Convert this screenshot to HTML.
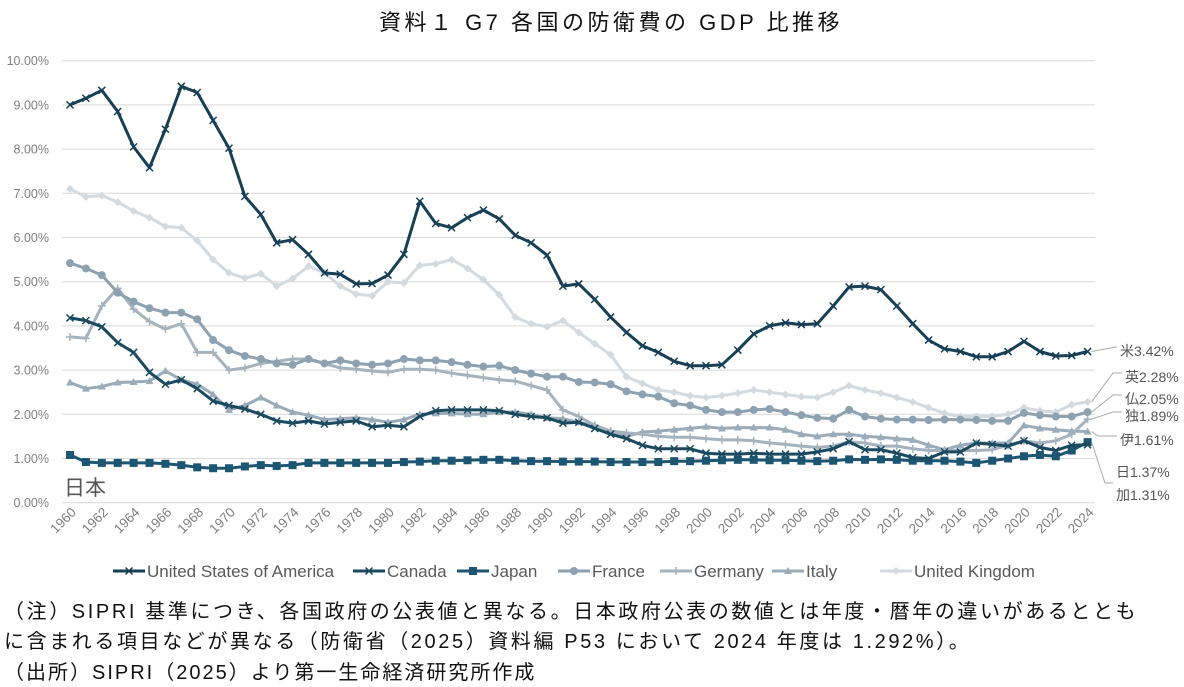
<!DOCTYPE html>
<html><head><meta charset="utf-8">
<style>
body{margin:0;background:#fff;width:1184px;height:687px;overflow:hidden;font-family:"Liberation Sans","Noto Sans CJK JP",sans-serif;}
.n{position:absolute;left:4px;font-size:20px;letter-spacing:2.6px;color:#111;white-space:nowrap;}
</style></head><body>
<svg id="s" width="1184" height="687" style="position:absolute;left:0;top:0" xmlns="http://www.w3.org/2000/svg"></svg>
<div class="n" style="top:595px">（注）SIPRI 基準につき、各国政府の公表値と異なる。日本政府公表の数値とは年度・暦年の違いがあるととも</div>
<div class="n" style="top:625px">に含まれる項目などが異なる（防衛省（2025）資料編 P53 において 2024 年度は 1.292%）。</div>
<div class="n" style="top:656px;letter-spacing:2px">（出所）SIPRI（2025）より第一生命経済研究所作成</div>
<script>
const S=document.getElementById('s');let h='';
const X=y=>70+(y-1960)*15.9, Y=v=>502.7-v*44.2;
h+='<text x="611" y="30" text-anchor="middle" font-size="22" letter-spacing="3.5" fill="#111" font-family="Liberation Sans,Noto Sans CJK JP,sans-serif">資料１ G7 各国の防衛費の GDP 比推移</text>';
for(let i=0;i<=10;i++){const y=Y(i);h+=`<line x1="62" x2="1095" y1="${y}" y2="${y}" stroke="#d9d9d9" stroke-width="1"/>`;
h+=`<text x="49" y="${y+4.5}" text-anchor="end" font-size="12.5" fill="#7f7f7f" font-family="Liberation Sans,sans-serif">${i}.00%</text>`;}
for(let yr=1960;yr<=2024;yr+=2){const x=X(yr);h+=`<text transform="translate(${x+7},${513}) rotate(-45)" text-anchor="end" font-size="13.5" fill="#7f7f7f" font-family="Liberation Sans,sans-serif">${yr}</text>`;}
const D={
us:[9.0,9.15,9.33,8.85,8.05,7.58,8.45,9.42,9.28,8.65,8.02,6.93,6.52,5.88,5.95,5.62,5.2,5.17,4.95,4.96,5.15,5.62,6.82,6.32,6.22,6.45,6.62,6.42,6.05,5.88,5.6,4.9,4.95,4.6,4.2,3.85,3.55,3.4,3.2,3.1,3.1,3.12,3.45,3.82,4.0,4.07,4.03,4.05,4.45,4.88,4.9,4.82,4.45,4.05,3.68,3.48,3.42,3.3,3.3,3.42,3.65,3.42,3.32,3.33,3.42],
uk:[7.1,6.92,6.95,6.8,6.6,6.45,6.25,6.22,5.93,5.5,5.2,5.08,5.18,4.9,5.07,5.35,5.2,4.9,4.72,4.68,5.0,4.97,5.37,5.4,5.5,5.3,5.05,4.7,4.2,4.05,3.98,4.12,3.85,3.6,3.35,2.85,2.7,2.55,2.5,2.42,2.38,2.42,2.48,2.55,2.5,2.45,2.4,2.38,2.5,2.65,2.55,2.48,2.38,2.28,2.15,2.02,1.95,1.95,1.95,2.0,2.15,2.08,2.05,2.22,2.28],
fr:[5.42,5.3,5.15,4.75,4.55,4.4,4.3,4.3,4.15,3.68,3.45,3.32,3.25,3.15,3.12,3.25,3.15,3.22,3.15,3.12,3.15,3.25,3.22,3.22,3.18,3.12,3.08,3.1,3.0,2.92,2.85,2.85,2.73,2.72,2.68,2.52,2.45,2.4,2.25,2.2,2.1,2.05,2.05,2.1,2.12,2.05,1.98,1.92,1.9,2.1,1.95,1.9,1.88,1.88,1.87,1.88,1.88,1.87,1.85,1.85,2.03,1.98,1.95,1.95,2.05],
de:[3.75,3.72,4.45,4.85,4.38,4.1,3.93,4.05,3.4,3.4,3.0,3.05,3.15,3.2,3.25,3.25,3.15,3.05,3.02,2.98,2.95,3.02,3.02,3.0,2.93,2.88,2.83,2.78,2.75,2.65,2.55,2.1,1.95,1.75,1.62,1.58,1.55,1.5,1.48,1.48,1.45,1.42,1.42,1.4,1.35,1.32,1.28,1.25,1.28,1.38,1.35,1.28,1.28,1.22,1.18,1.18,1.18,1.18,1.2,1.3,1.4,1.35,1.4,1.55,1.89],
it:[2.72,2.58,2.63,2.72,2.73,2.75,2.98,2.78,2.68,2.45,2.1,2.2,2.38,2.2,2.05,1.98,1.88,1.9,1.92,1.88,1.82,1.88,2.0,2.02,2.02,2.0,2.0,2.05,2.05,2.0,1.92,1.9,1.82,1.75,1.62,1.5,1.6,1.62,1.65,1.68,1.72,1.68,1.7,1.7,1.7,1.65,1.55,1.5,1.55,1.55,1.5,1.48,1.45,1.42,1.3,1.2,1.3,1.35,1.35,1.35,1.75,1.68,1.65,1.62,1.61],
ca:[4.18,4.12,3.98,3.62,3.4,2.95,2.68,2.78,2.58,2.3,2.2,2.12,2.0,1.85,1.8,1.85,1.78,1.82,1.85,1.72,1.75,1.72,1.95,2.08,2.1,2.1,2.1,2.08,2.0,1.95,1.92,1.8,1.82,1.68,1.55,1.45,1.3,1.22,1.22,1.22,1.12,1.1,1.1,1.12,1.1,1.1,1.1,1.15,1.22,1.38,1.2,1.2,1.12,1.02,1.0,1.15,1.15,1.35,1.32,1.28,1.4,1.25,1.18,1.3,1.31],
jp:[1.08,0.92,0.9,0.9,0.9,0.9,0.88,0.85,0.8,0.78,0.78,0.82,0.85,0.83,0.85,0.9,0.9,0.9,0.9,0.9,0.9,0.92,0.93,0.95,0.95,0.96,0.97,0.97,0.95,0.94,0.94,0.93,0.93,0.93,0.92,0.92,0.92,0.92,0.94,0.94,0.95,0.96,0.97,0.97,0.96,0.96,0.95,0.94,0.95,0.98,0.97,0.98,0.97,0.95,0.95,0.95,0.93,0.9,0.95,1.0,1.05,1.08,1.05,1.18,1.37]};
const C={us:'#173f55',ca:'#1b4a60',jp:'#1d5673',fr:'#8da2b0',de:'#a4b3be',it:'#9aacb9',uk:'#d3dbe1'};
function mk(k,x,y){const c=C[k];
 if(k=='jp')return `<rect x="${x-4}" y="${y-4}" width="8" height="8" fill="${c}"/>`;
 if(k=='fr')return `<circle cx="${x}" cy="${y}" r="4" fill="${c}"/>`;
 if(k=='it')return `<path d="M${x} ${y-4}L${x+4} ${y+3}L${x-4} ${y+3}Z" fill="${c}"/>`;
 if(k=='uk')return `<path d="M${x} ${y-4}L${x+4} ${y}L${x} ${y+4}L${x-4} ${y}Z" fill="${c}"/>`;
 if(k=='de')return `<path d="M${x-4} ${y}H${x+4}M${x} ${y-4}V${y+4}" stroke="${c}" stroke-width="1.5"/>`;
 return `<path d="M${x-3.5} ${y-3.5}L${x+3.5} ${y+3.5}M${x+3.5} ${y-3.5}L${x-3.5} ${y+3.5}" stroke="${c}" stroke-width="1.5"/>`;}
for(const k of ['uk','it','de','fr','jp','ca','us']){const a=D[k];let p='';let m='';
 a.forEach((v,i)=>{const x=X(1960+i),y=Y(v);p+=(i?'L':'M')+x.toFixed(1)+' '+y.toFixed(1);m+=mk(k,x,y);});
 h+=`<path d="${p}" fill="none" stroke="${C[k]}" stroke-width="3" stroke-linejoin="round"/>`+m;}
h+='<text x="64" y="495" font-size="21" fill="#555" font-family="Noto Sans CJK JP,sans-serif">日本</text>';
const L=[['米3.42%',351,3.42],['英2.28%',377,2.28],['仏2.05%',399,2.05],['独1.89%',416,1.89],['伊1.61%',440,1.61],['日1.37%',472,1.37],['加1.31%',495,1.31]];
const lx=[1120,1125,1125,1125,1120,1116,1116];
L.forEach((l,i)=>{const x0=X(2024)+4,y0=Y(l[2]);
 if(i<4)h+=`<path d="M${x0} ${y0}L${i==0?1116:1113} ${l[1]-4}H${lx[i]-3}" fill="none" stroke="#aaa" stroke-width="1"/>`;
 else if(i==4)h+=`<path d="M${x0} ${y0}L1098 ${l[1]-4}H${lx[i]-3}" fill="none" stroke="#aaa" stroke-width="1"/>`;
 else if(i==5)h+=`<path d="M${x0} ${y0}L1105 ${483}H1113" fill="none" stroke="#aaa" stroke-width="1"/>`;
 h+=`<text x="${lx[i]}" y="${l[1]+5}" font-size="14" fill="#555" font-family="Liberation Sans,Noto Sans CJK JP,sans-serif">${l[0]}</text>`;});
const G=[['us','United States of America',113],['ca','Canada',353],['jp','Japan',457],['fr','France',558],['de','Germany',660],['it','Italy',772],['uk','United Kingdom',880]];
G.forEach(g=>{const x=g[2],y=571;h+=`<line x1="${x}" x2="${x+32}" y1="${y}" y2="${y}" stroke="${C[g[0]]}" stroke-width="3"/>`+mk(g[0],x+16,y);
 h+=`<text x="${x+34}" y="${y+6}" font-size="17" fill="#595959" font-family="Liberation Sans,sans-serif">${g[1]}</text>`;});
S.innerHTML=h;
</script>
</body></html>
